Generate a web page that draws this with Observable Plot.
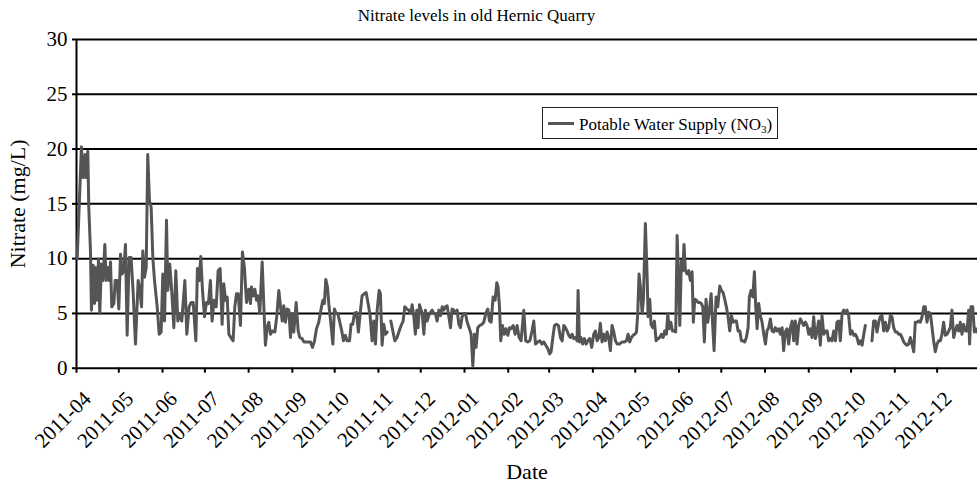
<!DOCTYPE html>
<html><head><meta charset="utf-8">
<script src="https://cdn.jsdelivr.net/npm/d3@7"></script>
<script src="https://cdn.jsdelivr.net/npm/@observablehq/plot@0.6"></script>
<style>
body{margin:0;background:#fff;}
#wrap{position:relative;width:977px;height:483px;font-family:"Liberation Serif","DejaVu Serif",serif;color:#000;}
#wrap svg{position:absolute;left:0;top:0;}
#title{position:absolute;left:0;width:953px;top:6.5px;text-align:center;font-size:17px;line-height:1;z-index:2;}
#legend{position:absolute;left:542px;top:107px;width:236px;height:32px;box-sizing:border-box;border:1px solid #222;background:#fff;z-index:2;}
#legend .sw{position:absolute;left:5px;top:14px;width:26px;height:3px;background:#555;}
#legend .tx{position:absolute;left:36px;top:8px;font-size:17px;line-height:1;white-space:nowrap;}
#legend sub{font-size:11px;vertical-align:-3px;line-height:0;}
</style></head>
<body><div id="wrap">
<div id="title">Nitrate levels in old Hernic Quarry</div>
<div id="legend"><span class="sw"></span><span class="tx">Potable Water Supply (NO<sub>3</sub>)</span></div>
</div>
<script>
// Day offsets from 2011-04-01 and nitrate values (mg/L)
const startDate = "2011-04-01";
const aprJul2011 = [[0.5,10.0],[3.5,20.2],[4.7,17.4],[6.1,19.5],[6.6,17.4],[8.0,19.8],[8.7,14.7],[9.9,10.7],[10.6,5.3],[11.8,9.4],[12.8,5.9],[13.5,9.2],[14.6,6.2],[15.6,10.0],[16.5,5.0],[17.7,9.5],[18.7,8.0],[20.1,11.3],[21.0,8.0],[22.2,9.2],[23.2,8.0],[24.1,9.7],[25.0,5.6],[26.5,5.9],[27.4,8.0],[28.8,8.0],[30.0,5.4],[31.2,10.4],[32.4,8.6],[33.5,8.9],[34.7,11.3],[35.9,3.0],[37.3,10.1],[38.7,10.1],[40.2,6.8],[41.8,2.2],[43.7,8.0],[44.9,7.1],[46.1,5.6],[47.0,10.7],[48.2,8.3],[49.4,9.2],[50.5,19.5],[51.7,15.3],[52.9,14.7],[54.1,10.1],[55.3,8.0],[57.2,5.6],[58.6,3.1],[60.0,3.3],[61.2,8.6],[62.4,4.3],[63.8,13.5],[64.7,7.1],[66.1,9.5],[67.6,6.8],[69.0,3.7],[70.4,8.9],[71.8,4.3],[73.2,5.0],[74.6,4.3],[76.8,8.0],[78.2,3.1],[79.8,5.6],[81.3,6.0],[82.7,6.0],[84.6,2.5],[85.7,9.1],[86.9,8.0],[88.1,10.2],[89.3,7.1],[90.7,4.7],[92.1,6.0],[93.5,5.9],[94.9,8.0],[96.1,4.3],[97.5,6.2],[99.0,5.6],[100.4,8.9],[101.8,9.1],[103.2,4.0],[104.4,7.7],[105.6,6.2],[106.8,6.5],[108.0,3.1],[109.4,2.8],[111.0,2.5],[112.2,5.6],[113.4,6.8],[114.6,6.8],[116.2,3.9],[117.6,10.6],[119.0,9.2],[120.5,6.0],[122.1,7.2]];
const augNov2011 = [[123.3,5.9],[124.0,7.4],[125.2,6.6],[126.4,7.2],[127.6,6.2],[128.7,6.6],[129.9,5.0],[131.6,9.7],[132.8,5.6],[133.9,2.1],[135.1,3.7],[136.3,4.2],[137.5,3.1],[138.7,3.4],[140.6,3.3],[142.0,4.8],[143.4,7.1],[144.6,5.6],[145.8,4.3],[146.9,5.7],[148.1,4.2],[149.3,5.4],[150.5,5.3],[151.7,2.8],[152.8,5.0],[154.0,3.3],[155.7,6.0],[157.1,3.4],[158.3,2.8],[159.9,2.7],[161.1,2.4],[162.3,2.4],[164.2,2.4],[165.8,2.4],[167.3,1.9],[168.7,2.5],[170.1,3.6],[171.7,4.2],[173.2,5.3],[174.6,6.2],[175.7,5.9],[176.7,8.1],[177.9,7.4],[178.8,5.9],[180.2,4.2],[181.7,2.2],[182.8,5.4],[184.0,5.0],[185.2,5.0],[186.6,4.2],[188.0,3.4],[189.2,2.5],[190.6,3.0],[191.8,2.5],[193.5,2.5],[194.6,4.0],[195.8,4.0],[197.0,5.0],[198.4,5.1],[199.8,3.3],[201.3,5.3],[202.4,6.6],[203.9,6.8],[205.3,6.9],[206.7,5.9],[208.1,4.8],[209.5,2.5],[210.7,4.3],[211.9,2.2],[213.1,5.3],[214.5,7.1],[215.4,6.8],[216.6,2.1],[217.8,4.0],[219.0,3.1],[220.2,3.3],[221.5,null],[222.8,4.3],[224.2,3.4],[225.6,2.5],[227.2,2.8],[228.7,3.4],[230.1,3.9],[231.5,4.3],[232.7,5.6],[234.1,5.4],[235.5,5.3],[236.9,5.0],[237.9,5.8],[239.0,4.8],[240.2,3.1],[241.2,5.3],[242.1,3.7],[243.1,5.8]];
const decMar2012 = [[245.0,5.0],[246.2,3.1],[247.3,5.3],[248.5,4.3],[249.7,4.8],[250.9,5.1],[252.1,5.3],[253.2,5.0],[254.4,5.0],[255.6,4.3],[256.8,5.3],[258.0,4.8],[259.2,5.6],[260.3,5.3],[261.5,5.6],[262.7,5.7],[263.9,4.7],[265.1,3.7],[266.2,5.4],[267.4,5.3],[268.6,5.0],[269.8,5.3],[271.0,4.0],[272.1,3.7],[273.3,4.7],[274.5,5.0],[275.7,5.0],[276.9,4.2],[278.5,3.6],[279.7,3.1],[280.9,0.2],[282.1,3.1],[283.2,1.9],[284.4,3.7],[285.8,3.9],[287.3,4.0],[288.7,4.2],[290.1,5.0],[291.5,5.4],[292.7,4.3],[293.9,4.2],[295.3,6.5],[296.7,6.2],[297.9,7.8],[298.8,7.4],[299.8,5.6],[300.7,2.5],[301.9,3.9],[303.1,3.1],[304.3,3.6],[305.7,3.0],[306.9,3.7],[308.0,3.6],[309.5,3.9],[310.9,3.1],[312.3,3.9],[313.7,2.8],[315.1,2.5],[317.0,5.3],[318.4,2.5],[319.9,2.4],[321.3,2.5],[322.7,3.3],[324.1,4.3],[325.3,2.2],[326.9,2.4],[328.4,2.5],[329.8,2.2],[331.2,2.4],[332.6,2.1],[334.0,1.8],[335.4,1.3],[336.4,1.5],[337.6,2.8],[338.8,3.9],[340.2,4.0],[341.6,3.9],[343.0,2.8],[344.2,2.5],[345.4,3.9],[346.5,3.7],[347.7,3.4],[348.9,3.0],[350.1,2.8],[351.3,3.1],[352.5,2.7],[353.6,2.8],[354.8,2.5],[355.5,7.1],[356.5,2.4],[357.6,2.8],[358.8,2.2],[360.0,2.7],[361.2,2.2],[362.4,2.5],[363.8,2.7],[365.2,1.9],[366.6,3.1],[367.8,3.4]];
const aprJul2012 = [[369.0,2.5],[370.2,2.8],[371.3,4.1],[372.5,2.4],[373.7,3.1],[374.9,2.5],[376.1,3.3],[377.2,2.8],[378.4,1.6],[379.6,3.9],[380.8,3.3],[382.0,2.5],[383.2,2.2],[384.8,2.2],[386.7,2.4],[388.4,2.4],[389.8,2.5],[391.0,3.1],[392.1,2.4],[393.3,2.8],[394.5,3.0],[395.7,3.1],[396.9,3.3],[397.8,5.0],[398.7,8.6],[399.7,7.4],[400.9,5.0],[401.8,6.2],[403.2,13.2],[404.4,8.6],[405.1,4.7],[406.3,6.3],[407.2,4.0],[408.4,3.7],[409.6,4.3],[410.8,2.5],[412.2,2.7],[413.4,2.8],[414.6,3.1],[415.8,2.8],[416.9,3.4],[418.1,3.1],[419.1,5.0],[420.0,3.6],[421.2,4.2],[422.4,3.4],[423.5,3.4],[424.7,3.3],[425.7,12.1],[426.6,8.6],[427.6,3.9],[428.7,9.8],[429.7,8.9],[430.6,11.3],[431.6,8.9],[432.8,8.6],[433.9,8.9],[435.1,8.0],[436.3,8.8],[437.2,4.2],[438.2,6.3],[439.4,6.2],[440.5,6.0],[441.7,6.0],[442.9,5.9],[443.9,5.6],[445.0,2.4],[446.2,6.3],[447.4,4.2],[448.6,5.3],[449.8,6.8],[451.0,3.7],[451.9,1.6],[453.3,6.5],[454.5,5.6],[455.9,7.5],[457.1,7.1],[458.3,6.9],[459.4,6.3],[460.6,5.6],[461.8,4.7],[463.0,3.4],[464.2,4.8],[465.4,4.2],[466.5,4.3],[467.7,4.3],[468.9,3.4],[470.1,3.4],[471.3,2.5],[472.4,2.5],[473.6,2.4],[474.8,2.8],[476.0,3.7],[476.9,6.5],[478.1,7.1],[479.3,6.5],[480.5,8.8],[481.4,5.6],[482.4,3.6],[483.5,5.9],[484.7,4.8],[485.9,4.2],[487.1,3.1],[488.3,2.2],[489.4,3.4],[490.6,3.7],[491.8,4.5]];
const augDec2012 = [[493.0,3.4],[494.2,3.3],[495.3,3.7],[496.5,3.4],[497.7,3.6],[498.9,3.1],[500.1,3.7],[501.2,1.6],[502.4,3.3],[503.6,3.6],[504.8,2.2],[506.0,3.7],[507.2,4.3],[508.3,2.5],[509.5,4.3],[510.7,2.2],[511.9,3.9],[513.1,4.5],[514.2,4.2],[515.4,3.9],[516.6,4.2],[517.8,3.9],[519.0,3.1],[520.1,3.6],[521.3,2.8],[522.5,4.7],[523.7,2.7],[524.9,3.4],[526.0,4.3],[527.2,2.1],[528.4,4.8],[529.6,3.1],[530.8,3.4],[532.0,3.4],[533.1,2.5],[534.3,2.7],[535.5,2.5],[536.7,3.4],[537.9,2.5],[539.0,4.2],[540.2,4.3],[541.4,2.5],[542.6,5.0],[543.8,5.3],[545.0,5.0],[546.1,5.3],[547.3,4.8],[548.5,3.1],[549.7,3.4],[550.9,3.0],[552.0,3.1],[553.2,2.8],[554.4,2.2],[555.6,2.5],[556.8,2.1],[558.0,3.1],[559.1,3.9],[561.5,null],[563.8,2.5],[565.0,4.3],[566.2,4.3],[567.4,3.3],[568.6,4.2],[569.7,4.7],[570.9,4.8],[572.1,3.4],[573.3,4.2],[574.5,3.4],[575.7,3.7],[576.8,4.8],[578.0,4.7],[579.2,3.7],[580.4,3.3],[581.6,3.3],[582.7,3.1],[583.9,3.1],[585.1,2.8],[586.3,2.4],[587.5,2.2],[588.6,2.1],[589.8,2.2],[591.0,2.8],[592.2,2.2],[593.4,1.5],[594.5,4.2],[595.7,4.2],[596.9,4.3],[598.1,4.2],[599.3,4.7],[600.5,5.6],[601.6,5.6],[602.8,4.2],[604.0,5.1],[605.2,5.0],[606.4,3.7],[607.5,2.5],[608.7,1.5],[609.9,2.2],[611.1,2.5],[612.3,2.5],[613.4,3.1],[614.6,4.2],[615.8,3.0],[617.0,3.1],[618.2,3.4],[619.3,3.7],[620.5,5.3],[621.7,2.8],[622.9,3.4],[624.1,3.9],[625.3,3.4],[626.4,4.2],[627.6,3.1],[628.8,4.0],[630.0,3.4],[631.2,3.4],[632.3,5.3],[633.0,2.2],[634.0,5.6],[635.2,5.6],[636.4,3.3],[637.5,3.6],[638.5,3.3]];

const monthLabels = ["2011-04","2011-05","2011-06","2011-07","2011-08","2011-09","2011-10","2011-11","2011-12","2012-01","2012-02","2012-03","2012-04","2012-05","2012-06","2012-07","2012-08","2012-09","2012-10","2012-11","2012-12"];
const yTicks = [0,5,10,15,20,25,30];
const domainEndDay = 638.6;

const t0 = new Date(startDate + "T00:00:00Z").getTime();
const toDate = d => new Date(t0 + d * 864e5);
const readings = [...aprJul2011, ...augNov2011, ...decMar2012, ...aprJul2012, ...augDec2012]
  .map(([d, v]) => ({date: toDate(d), value: v}));
const monthDates = monthLabels.map(s => new Date(s + "-01T00:00:00Z"));
const xDomain = [toDate(0), toDate(domainEndDay)];
const fmt = d3.utcFormat("%Y-%m");
const serif = "'Liberation Serif', 'DejaVu Serif', serif";

const chart = Plot.plot({
  width: 977, height: 483,
  marginLeft: 76, marginRight: 0, marginTop: 39, marginBottom: 115.3,
  style: {fontFamily: serif, background: "transparent", color: "black", overflow: "visible"},
  x: {type: "utc", domain: xDomain},
  y: {domain: [0, 30]},
  marks: [
    Plot.ruleY(yTicks, {stroke: "black", strokeWidth: 2}),
    Plot.ruleX([xDomain[0]], {stroke: "black", strokeWidth: 2}),
    Plot.axisY({ticks: yTicks, tickSize: 4, tickPadding: 5, fontSize: 21, fontFamily: serif, strokeWidth: 2, stroke: "black", label: null}),
    Plot.axisX({ticks: monthDates, tickSize: 5, tickFormat: () => "", strokeWidth: 2, stroke: "black", label: null}),
    Plot.axisX({ticks: monthDates, tickSize: 0, tickPadding: 27, tickFormat: fmt, tickRotate: -45, fontSize: 21, fontFamily: serif, dx: 11, label: null}),
    Plot.line(readings, {x: "date", y: "value", stroke: "#555555", strokeWidth: 3}),
    Plot.text(["Date"], {frameAnchor: "bottom", textAnchor: "middle", lineAnchor: "middle", dy: 103.5, fontSize: 22, fontFamily: serif, fill: "black"}),
    Plot.text(["Nitrate (mg/L)"], {frameAnchor: "left", textAnchor: "middle", lineAnchor: "middle", rotate: -90, dx: -59, fontSize: 22, fontFamily: serif, fill: "black"})
  ]
});
document.getElementById("wrap").prepend(chart);
</script>
</body></html>
